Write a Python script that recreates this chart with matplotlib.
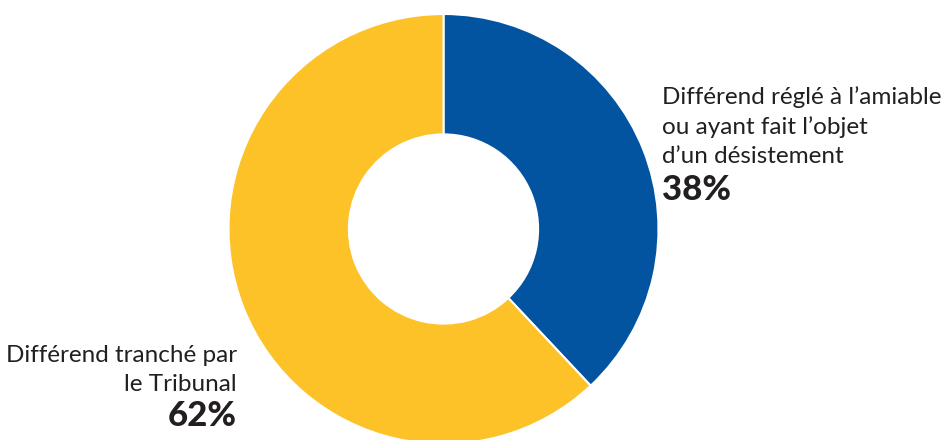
import matplotlib
matplotlib.use("Agg")
import matplotlib.pyplot as plt

categories = ["Différend réglé à l’amiable\nou ayant fait l’objet\nd’un désistement", "Différend tranché par\nle Tribunal"]
values = [38, 62]
pct_labels = ["38%", "62%"]
colors = ["#0254A0", "#FDC228"]

W, H = 947, 440
fig = plt.figure(figsize=(W / 100, H / 100), dpi=100)
ax = fig.add_axes([0, 0, 1, 1])
ax.set_xlim(0, W)
ax.set_ylim(0, H)
ax.set_aspect("equal")
ax.axis("off")

cx, cy, R = 443.5, H - 229, 215
ax.pie(values, colors=colors, startangle=90, counterclock=False,
       center=(cx, cy), radius=R, frame=True,
       wedgeprops=dict(width=R * 0.56, edgecolor="white", linewidth=1.5))
ax.set_xlim(0, W)
ax.set_ylim(0, H)
ax.axis("off")

fam = ["Lato", "DejaVu Sans"]
tc = "#231F20"
# right label
lines_r = categories[0].split("\n")
for i, ln in enumerate(lines_r):
    ax.text(662, H - (104 + 29.5 * i), ln, ha="left", va="baseline",
            fontsize=17.5, family=fam, color=tc)
ax.text(662, H - 200, pct_labels[0], ha="left", va="baseline",
        fontsize=25, family=fam, weight="black", color=tc)
# left label
lines_l = categories[1].split("\n")
for i, ln in enumerate(lines_l):
    ax.text(237, H - (362 + 28.5 * i), ln, ha="right", va="baseline",
            fontsize=17.5, family=fam, color=tc)
ax.text(237, H - 426, pct_labels[1], ha="right", va="baseline",
        fontsize=25, family=fam, weight="black", color=tc)

fig.savefig("out.png", dpi=100)
